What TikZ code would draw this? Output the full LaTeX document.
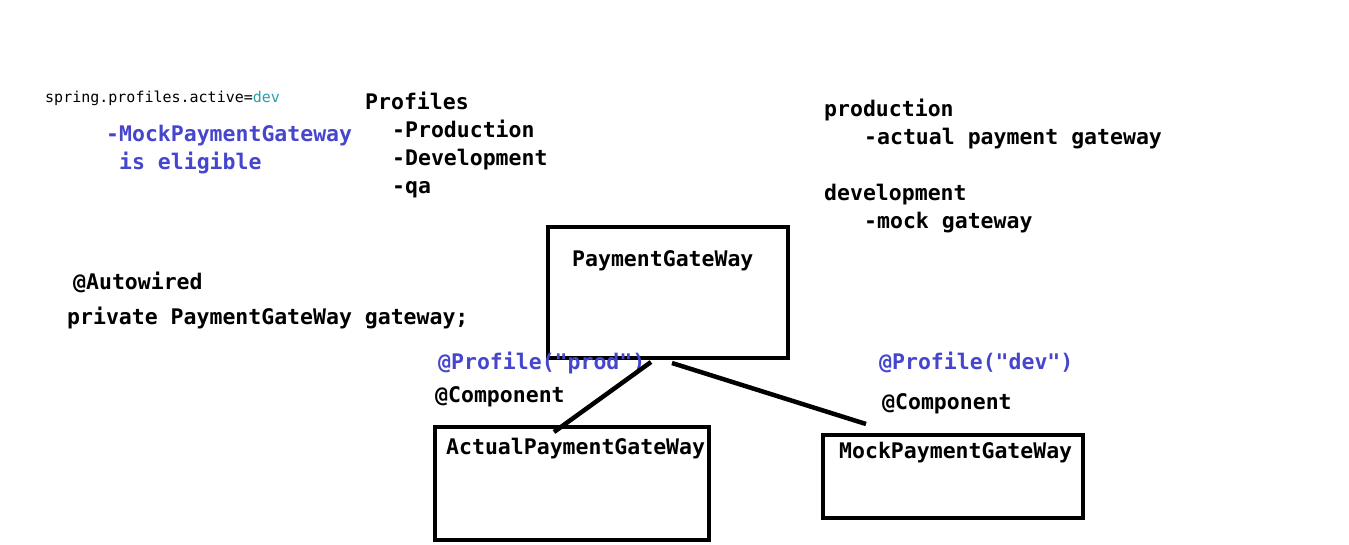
\documentclass[tikz,border=0pt]{standalone}
\usepackage{fontspec}
\setmonofont{DejaVu Sans Mono}
\usepackage{xcolor}
\usepackage{tikz}
\usetikzlibrary{positioning}

\definecolor{annot}{RGB}{70,70,205}
\definecolor{propval}{RGB}{40,160,170}

\begin{document}
\begin{tikzpicture}[x=1pt, y=-1pt,
    txt/.style={inner sep=0pt, anchor=base west, font=\ttfamily\bfseries\fontsize{21.5}{26}\selectfont},
    small/.style={inner sep=0pt, anchor=base west, font=\ttfamily\fontsize{15}{18}\selectfont},
    note/.style={txt, text=annot},
    box/.style={draw, line width=4.5pt},
    link/.style={line width=4.5pt}]
        \useasboundingbox (0,0) rectangle (1349,544);

        % property and note
        \node[small] (prop) at (45,102) {spring.profiles.active=\textcolor{propval}{dev}};
        \node[note] (mockA) at (106,141) {-MockPaymentGateway};
        \node[note] (mockB) at (106,169) {\ is eligible};

        % profile list
        \node[txt] (P) at (365,109) {Profiles};
        \node[txt] (P1) at (392,137) {-Production};
        \node[txt] (P2) at (392,165) {-Development};
        \node[txt] (P3) at (392,193) {-qa};

        \node[txt] (E1) at (824,116) {production};
        \node[txt] (E2) at (864,144) {-actual payment gateway};
        \node[txt] (E3) at (824,200) {development};
        \node[txt] (E4) at (864,228) {-mock gateway};

        % field
        \node[txt] (F1) at (73,289) {@Autowired};
        \node[txt] (F2) at (67,324) {private PaymentGateWay gateway;};

        % boxes
        \draw[box] (548,227) rectangle (788,358);
        \node[txt] (G) at (572,266) {PaymentGateWay};
        \draw[box] (435,427) rectangle (709,540);
        \node[txt] (A) at (446,454) {ActualPaymentGateWay};
        \draw[box] (823,435) rectangle (1083,518);
        \node[txt] (M) at (839,458) {MockPaymentGateWay};

        \node[note] (AP) at (438,369) {@Profile("prod")};
        \node[txt] (AC) at (435,402) {@Component};
        \node[note] (MP) at (879,369) {@Profile("dev")};
        \node[txt] (MC) at (882,409) {@Component};

        % connectors
        \coordinate (G1) at (651,362);
        \coordinate (G2) at (672,363);
        \coordinate (A1) at (554,432);
        \coordinate (M1) at (866,424);
        \draw[link] (G1) -- (A1);
        \draw[link] (G2) -- (M1);
\end{tikzpicture}
\end{document}
